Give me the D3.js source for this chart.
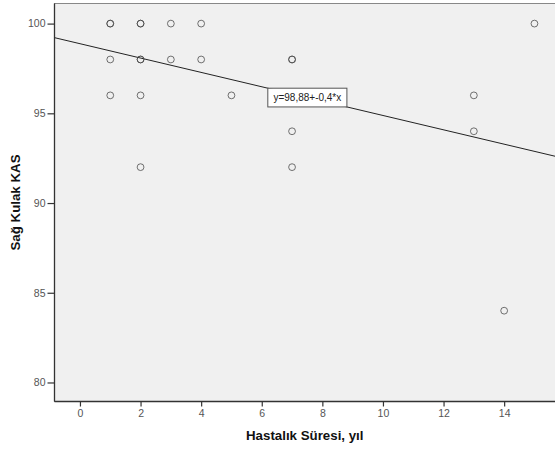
<!DOCTYPE html>
<html>
<head>
<meta charset="utf-8">
<script src="https://cdn.jsdelivr.net/npm/d3@7"></script>
<style>
  html, body { margin: 0; padding: 0; background: #fff; }
  svg { display: block; }
</style>
</head>
<body>
<svg id="chart" width="555" height="455"></svg>
<script>
// Disease duration (years) and right-ear KAS score per patient
const duration = [1, 1, 1, 1, 2, 2, 2, 2, 2, 2, 3, 3, 4, 4, 5, 7, 7, 7, 7, 13, 13, 14, 15];
const kas      = [100, 100, 98, 96, 100, 100, 98, 98, 96, 92, 100, 98, 100, 98, 96, 98, 98, 94, 92, 96, 94, 84, 100];

// Fit line coefficients (intercept, slope)
const intercept = 98.88;
const slope = -0.4;
const fitLabel = "y=98,88+-0,4*x";

const xTicks = [0, 2, 4, 6, 8, 10, 12, 14];
const yTicks = [80, 85, 90, 95, 100];

const xTitle = "Hastalık Süresi, yıl";
const yTitle = "Sağ Kulak KAS";

const svg = d3.select("#chart");
const plot = { left: 54.5, top: 3.5, right: 560, bottom: 401.5 };

const x = d3.scaleLinear().domain([-0.84, 16.2]).range([plot.left, plot.left + (16.2 + 0.84) * 30.3]);
const y = d3.scaleLinear().domain([78.94, 101.12]).range([plot.bottom, plot.top]);

// Plot background
svg.append("rect")
  .attr("x", plot.left).attr("y", plot.top)
  .attr("width", plot.right - plot.left).attr("height", plot.bottom - plot.top)
  .attr("fill", "#f0f0f0")
  .attr("stroke", "#888").attr("stroke-width", 1);

svg.append("clipPath").attr("id", "plotclip")
  .append("rect")
  .attr("x", plot.left).attr("y", plot.top)
  .attr("width", plot.right - plot.left).attr("height", plot.bottom - plot.top);

const font = "'Liberation Sans', Arial, sans-serif";

// Axes
const yAxis = svg.append("g")
  .attr("transform", `translate(${plot.left},0)`)
  .call(d3.axisLeft(y).tickValues(yTicks).tickSize(7).tickPadding(2).tickFormat(d3.format("d")));
const xAxis = svg.append("g")
  .attr("transform", `translate(0,${plot.bottom})`)
  .call(d3.axisBottom(x).tickValues(xTicks).tickSize(5).tickPadding(3).tickFormat(d3.format("d")));

[xAxis, yAxis].forEach(ax => {
  ax.select(".domain").attr("stroke", "#333").attr("stroke-width", 1.3);
  ax.selectAll(".tick line").attr("stroke", "#333").attr("stroke-width", 1.2);
  ax.selectAll(".tick text")
    .attr("fill", "#555").style("font-family", font).style("font-size", "10.5px");
});
yAxis.select(".domain").attr("d", `M0,${plot.top}V${plot.bottom}`);
xAxis.select(".domain").attr("d", `M${plot.left},0H${plot.right}`);

// Fit line across the plot
const g = svg.append("g").attr("clip-path", "url(#plotclip)");
const x0 = x.invert(plot.left), x1 = x.invert(plot.right);
const boxX0 = 6.2, boxX1 = 8.81;
const line = d3.line().x(d => x(d)).y(d => y(intercept + slope * d));
g.append("path").attr("d", line([x0, x1]))
  .attr("fill", "none").attr("stroke", "#222").attr("stroke-width", 1);

// Points
g.selectAll("circle.pt")
  .data(duration.map((d, i) => [d, kas[i]]))
  .join("circle")
  .attr("class", "pt")
  .attr("cx", d => x(d[0]))
  .attr("cy", d => y(d[1]))
  .attr("r", 3.4)
  .attr("fill", "none")
  .attr("stroke", "#444")
  .attr("stroke-opacity", 0.75)
  .attr("stroke-width", 1);

// Fit label box, spanning the line between its corners
const bx0 = x(boxX0), bx1 = x(boxX1);
const by0 = y(intercept + slope * boxX0), by1 = y(intercept + slope * boxX1);
g.append("rect")
  .attr("x", bx0).attr("y", by0)
  .attr("width", bx1 - bx0).attr("height", by1 - by0)
  .attr("fill", "#fff").attr("stroke", "#555").attr("stroke-width", 1);
g.append("text")
  .attr("x", (bx0 + bx1) / 2).attr("y", (by0 + by1) / 2 + 3.5)
  .attr("text-anchor", "middle")
  .style("font-family", font).style("font-size", "10px")
  .attr("fill", "#222")
  .text(fitLabel);

// Axis titles
svg.append("text")
  .attr("x", (plot.left + 555) / 2).attr("y", 440)
  .attr("text-anchor", "middle")
  .style("font-family", font).style("font-size", "13.3px").style("font-weight", "bold")
  .attr("fill", "#111")
  .text(xTitle);
svg.append("text")
  .attr("transform", `translate(20,${(plot.top + plot.bottom) / 2}) rotate(-90)`)
  .attr("text-anchor", "middle")
  .style("font-family", font).style("font-size", "13.3px").style("font-weight", "bold")
  .attr("fill", "#111")
  .text(yTitle);
</script>
</body>
</html>
